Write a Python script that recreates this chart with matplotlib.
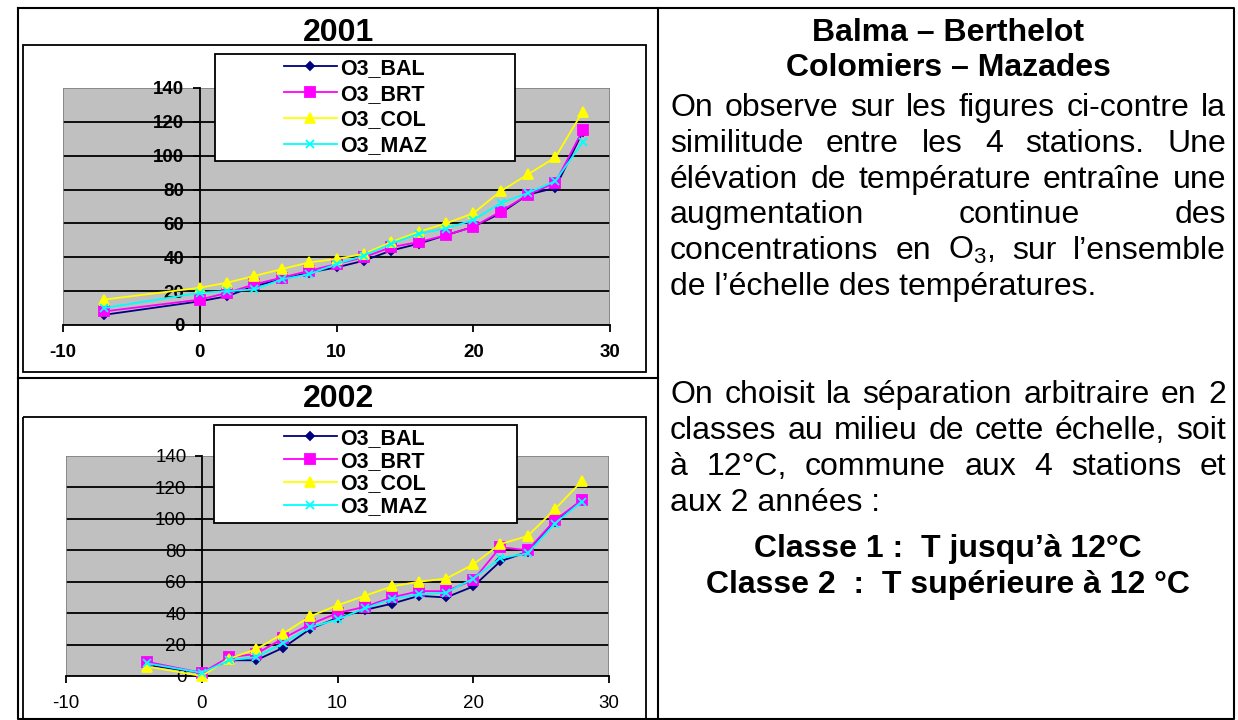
import matplotlib
matplotlib.use('Agg')
import matplotlib.pyplot as plt
from matplotlib.patches import Rectangle

plt.rcParams['font.family'] = ['Liberation Sans', 'DejaVu Sans']
plt.rcParams['mathtext.default'] = 'regular'
plt.rcParams['axes.unicode_minus'] = False

# ---------------------------------------------------------------- data
stations = ['O3_BAL', 'O3_BRT', 'O3_COL', 'O3_MAZ']
colors = ['#000080', '#ff00ff', '#ffff00', '#00ffff']
markers = ['D', 's', '^', 'x']
msizes = [4.5, 6.5, 7.5, 6]

temp_2001 = [-7, 0, 2, 4, 6, 8, 10, 12, 14, 16, 18, 20, 22, 24, 26, 28]
bal_2001 = [6, 14, 17, 23, 27, 31, 34, 38, 44, 48, 53, 58, 66, 77, 81, 114]
brt_2001 = [8, 15, 19, 24, 28, 32, 36, 40, 46, 49, 53, 58, 67, 77, 84, 115]
col_2001 = [15, 22, 25, 29, 33, 37, 39, 42, 49, 55, 60, 66, 79, 89, 99, 126]
maz_2001 = [10, 19, 20, 21, 27, 30, 36, 41, 48, 54, 57, 62, 72, 78, 85, 108]

temp_2002 = [-4, 0, 2, 4, 6, 8, 10, 12, 14, 16, 18, 20, 22, 24, 26, 28]
bal_2002 = [7, 2, 10, 10, 18, 30, 37, 42, 46, 51, 50, 57, 73, 79, 98, 112]
brt_2002 = [9, 2, 12, 14, 24, 33, 40, 44, 50, 54, 54, 61, 82, 80, 99, 112]
col_2002 = [6, 0, 11, 17, 27, 38, 45, 51, 57, 60, 62, 71, 84, 89, 106, 124]
maz_2002 = [8, 2, 10, 12, 21, 31, 36, 43, 49, 52, 53, 62, 75, 78, 97, 111]

xticks = [-10, 0, 10, 20, 30]
yticks = [0, 20, 40, 60, 80, 100, 120, 140]

W, H = 1238, 720
FS = 23

fig = plt.figure(figsize=(W / 100, H / 100), dpi=100)

# background axes in pixel coords (y down) for the table and the texts
bg = fig.add_axes([0, 0, 1, 1])
bg.set_xlim(0, W)
bg.set_ylim(H, 0)
bg.axis('off')

# table lines
bg.plot([18, 1234, 1234, 18, 18], [8, 8, 719, 719, 8], color='k', lw=1.5)
bg.plot([658, 658], [8, 719], color='k', lw=1.5)
bg.plot([18, 658], [378, 378], color='k', lw=1.5)
bg.add_patch(Rectangle((23, 45), 623, 327, fill=False, ec='k', lw=1.3))
bg.add_patch(Rectangle((23, 417), 623, 310, fill=False, ec='k', lw=1.3))
bg.text(338, 41, '2001', ha='center', va='baseline', fontsize=FS, fontweight='bold')
bg.text(338, 407, '2002', ha='center', va='baseline', fontsize=FS, fontweight='bold')


def chart(rect, temps, series, bold, box, anchor, spacing):
    ax = fig.add_axes([rect[0] / W, 1 - rect[3] / H, (rect[2] - rect[0]) / W, (rect[3] - rect[1]) / H])
    ax.set_facecolor('#c0c0c0')
    ax.set_xlim(-10, 30)
    ax.set_ylim(0, 140)
    for v in yticks[1:-1]:
        ax.axhline(v, color='k', lw=1.3, zorder=1)
    ax.add_patch(Rectangle((0, 0), 1, 1, transform=ax.transAxes, fill=False, ec='#808080', lw=1.2, zorder=1))
    lines = []
    for name, ys, c, m, ms in zip(stations, series, colors, markers, msizes):
        ln, = ax.plot(temps, ys, color=c, marker=m, ms=ms, mew=1.3, lw=1.3, label=name, zorder=3, clip_on=False)
        lines.append(ln)
    ax.spines['left'].set_position(('data', 0))
    ax.spines['top'].set_visible(False)
    ax.spines['right'].set_visible(False)
    ax.spines['left'].set_linewidth(1.3)
    ax.spines['bottom'].set_linewidth(1.3)
    ax.set_xticks(xticks)
    ax.set_yticks(yticks)
    wt = 'bold' if bold else 'normal'
    ax.tick_params(axis='x', direction='out', length=5, width=1.3, pad=9, labelsize=13.5)
    ax.tick_params(axis='y', direction='out', length=5, width=1.3, pad=6, labelsize=13.5)
    for lab in ax.get_xticklabels() + ax.get_yticklabels():
        lab.set_fontweight(wt)
    # legend box
    fig.add_artist(Rectangle((box[0] / W, 1 - box[3] / H), (box[2] - box[0]) / W, (box[3] - box[1]) / H,
                             transform=fig.transFigure, fc='white', ec='k', lw=1.3, zorder=3))
    leg = fig.legend(lines, stations, loc='upper left', bbox_to_anchor=(anchor[0] / W, 1 - anchor[1] / H),
                     frameon=False, handlelength=2.45, handletextpad=0.15,
                     labelspacing=spacing, borderpad=0, borderaxespad=0,
                     prop={'weight': 'bold', 'size': 15.5})
    leg.set_zorder(5)
    return ax


chart((63, 88, 610, 325), temp_2001, [bal_2001, brt_2001, col_2001, maz_2001], True,
      (215, 54, 515, 161), (284, 58), 0.22)
chart((66, 456, 609, 676), temp_2002, [bal_2002, brt_2002, col_2002, maz_2002], False,
      (214, 425, 517, 523), (284, 428), 0.08)

# ---------------------------------------------------------------- right column text
r = fig.canvas.get_renderer()
X0, X1 = 670, 1226


def justify(line, y, last=False):
    if last:
        bg.text(X0, y, line, fontsize=FS, va='baseline', ha='left')
        return
    words = line.split(' ')
    ts = [bg.text(0, y, w, fontsize=FS, va='baseline', ha='left') for w in words]
    ws = [t.get_window_extent(r).width for t in ts]
    gap = (X1 - X0 - sum(ws)) / (len(words) - 1)
    x = X0
    for t, w in zip(ts, ws):
        t.set_x(x)
        x += w + gap


bg.text(948, 41, 'Balma – Berthelot', ha='center', va='baseline', fontsize=FS, fontweight='bold')
bg.text(948, 76, 'Colomiers – Mazades', ha='center', va='baseline', fontsize=FS, fontweight='bold')

para1 = ['On observe sur les figures ci-contre la',
         'similitude entre les 4 stations. Une',
         'élévation de température entraîne une',
         'augmentation continue des',
         'concentrations en O$_3$, sur l’ensemble',
         'de l’échelle des températures.']
for i, line in enumerate(para1):
    justify(line, 116 + 35.8 * i, last=(i == len(para1) - 1))

para2 = ['On choisit la séparation arbitraire en 2',
         'classes au milieu de cette échelle, soit',
         'à 12°C, commune aux 4 stations et',
         'aux 2 années :']
for i, line in enumerate(para2):
    justify(line, 403 + 36 * i, last=(i == len(para2) - 1))

bg.text(948, 557, 'Classe 1 :  T jusqu’à 12°C', ha='center', va='baseline', fontsize=FS, fontweight='bold')
bg.text(948, 593, 'Classe 2  :  T supérieure à 12 °C', ha='center', va='baseline', fontsize=FS, fontweight='bold')

fig.savefig('out.png', dpi=100)
